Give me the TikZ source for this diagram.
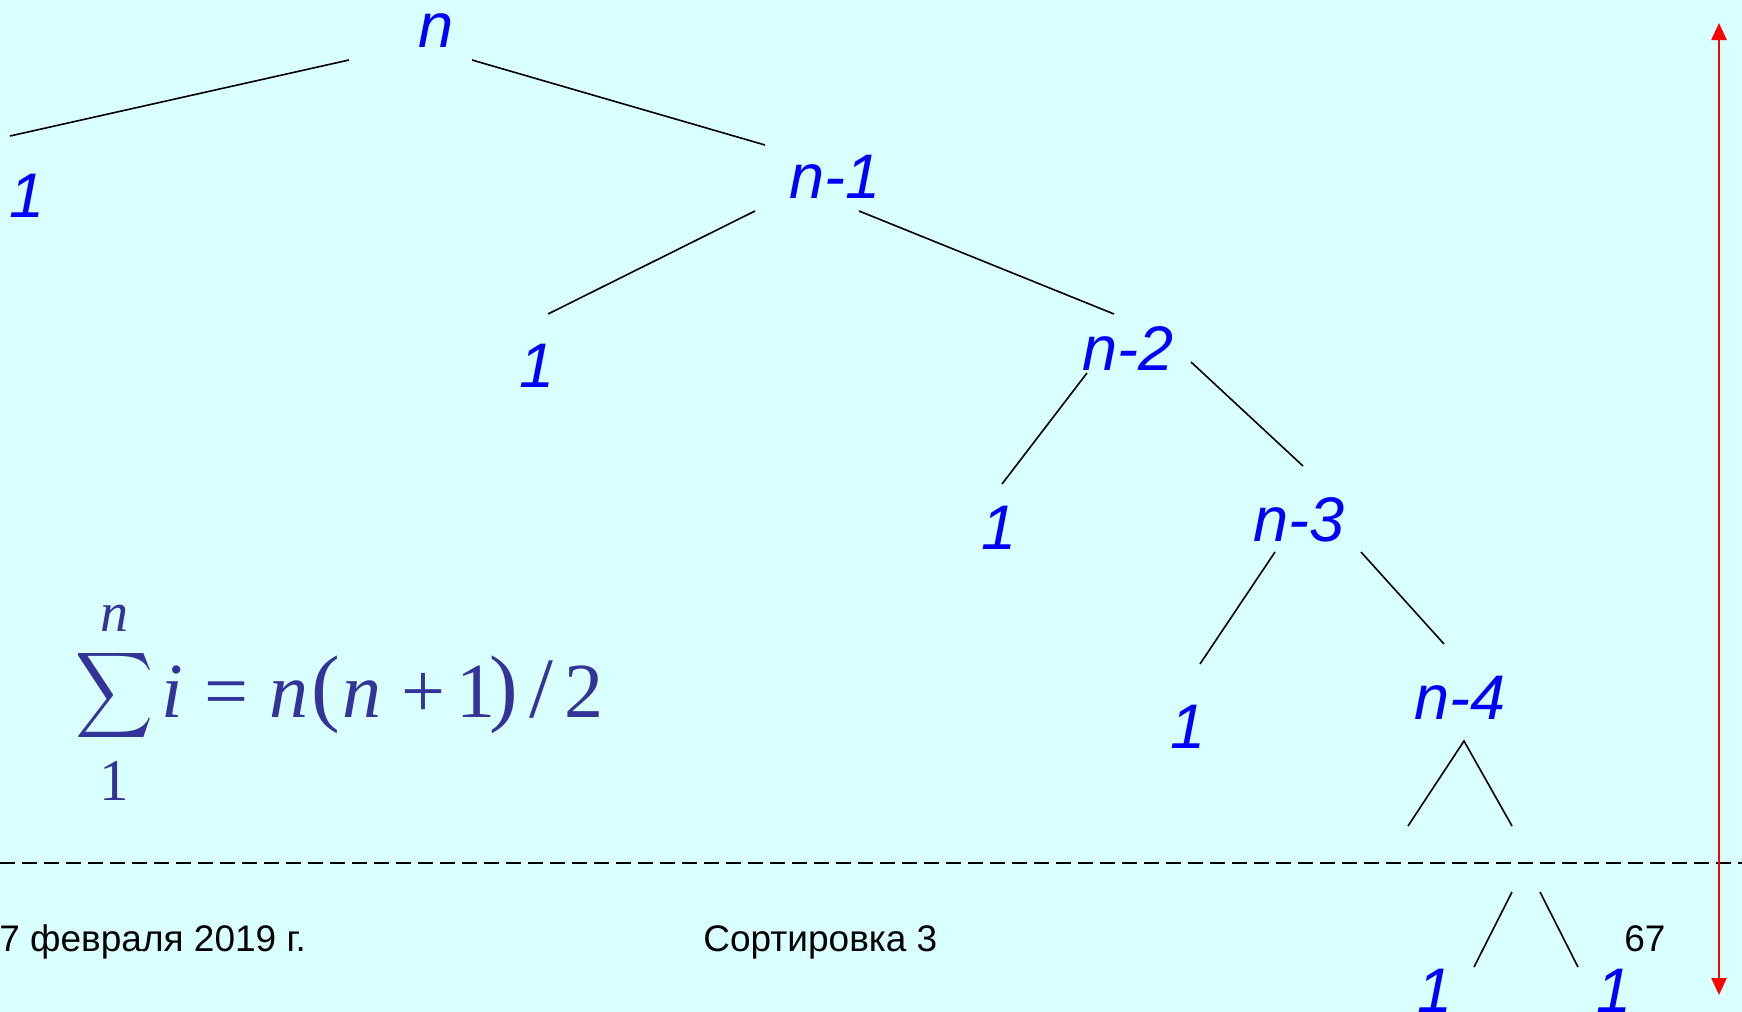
\documentclass[tikz,border=0pt]{standalone}
\usepackage{fontspec}
\usepackage{graphicx}
\setmainfont{Liberation Sans}
\newfontfamily\tnr{Liberation Serif}
\usetikzlibrary{arrows.meta}
\definecolor{bgcyan}{RGB}{217,255,255}
\definecolor{formula}{RGB}{51,51,153}
\tikzset{
  lbl/.style={anchor=base,inner sep=0pt,text=blue,font=\fontsize{31.5}{34}\selectfont\itshape},
  edge/.style={draw=black,line width=0.8pt},
  foot/.style={anchor=base west,inner sep=0pt,text=black,font=\fontsize{18.5}{20}\selectfont},
  fm/.style={anchor=base,inner sep=0pt,text=formula,font=\tnr\fontsize{39}{42}\selectfont},
  fmit/.style={fm,font=\tnr\fontsize{39}{42}\selectfont\itshape},
  fmbig/.style={fm,font=\tnr\fontsize{43}{46}\selectfont},
}
\begin{document}
\begin{tikzpicture}[x=0.5pt,y=-0.5pt]
\fill[bgcyan] (0,0) rectangle (1742,1012);
\useasboundingbox (0,0) rectangle (1742,1012);

% tree labels
\node[lbl] (n)  at (436,47)  {n};
\node[lbl] (a1) at (27,217)  {1};
\node[lbl] (n1) at (835,198) {n-1};
\node[lbl] (a2) at (537,387) {1};
\node[lbl] (n2) at (1128,370) {n-2};
\node[lbl] (a3) at (999,549) {1};
\node[lbl] (n3) at (1299,541) {n-3};
\node[lbl] (a4) at (1188,748) {1};
\node[lbl] (n4) at (1460,719) {n-4};
\node[lbl] (a5) at (1435,1012) {1};
\node[lbl] (a6) at (1614,1012) {1};

% edge end points
\coordinate (e1a) at (349,60);   \coordinate (e1b) at (10,136);
\coordinate (e2a) at (472,60);   \coordinate (e2b) at (765,145);
\coordinate (e3a) at (755,211);  \coordinate (e3b) at (548,314);
\coordinate (e4a) at (859,211);  \coordinate (e4b) at (1114,314);
\coordinate (e5a) at (1087,373); \coordinate (e5b) at (1002,484);
\coordinate (e6a) at (1191,362); \coordinate (e6b) at (1303,466);
\coordinate (e7a) at (1275,552); \coordinate (e7b) at (1200,664);
\coordinate (e8a) at (1361,552); \coordinate (e8b) at (1444,644);
\coordinate (apex) at (1464,741);
\coordinate (e9l) at (1408,826); \coordinate (e9r) at (1512,826);
\coordinate (f1a) at (1512,892); \coordinate (f1b) at (1474,967);
\coordinate (f2a) at (1540,892); \coordinate (f2b) at (1578,967);

\draw[edge] (e1a) -- (e1b);
\draw[edge] (e2a) -- (e2b);
\draw[edge] (e3a) -- (e3b);
\draw[edge] (e4a) -- (e4b);
\draw[edge] (e5a) -- (e5b);
\draw[edge] (e6a) -- (e6b);
\draw[edge] (e7a) -- (e7b);
\draw[edge] (e8a) -- (e8b);
\draw[edge] (e9l) -- (apex) -- (e9r);
\draw[edge] (f1a) -- (f1b);
\draw[edge] (f2a) -- (f2b);

% dashed line
\coordinate (dl) at (0,863); \coordinate (dr) at (1742,863);
\draw[black,line width=0.9pt,dash pattern=on 7.5pt off 3.5pt] (dl) -- (dr);

% red arrow
\coordinate (rt) at (1719,23); \coordinate (rb) at (1719,995);
\draw[red,line width=1.2pt,{Triangle[width=7.5pt,length=8.5pt]}-{Triangle[width=7.5pt,length=8.5pt]}] (rt) -- (rb);

% formula
\node[inner sep=0pt,text=formula] (sig) at (115,695) {\resizebox*{39pt}{48pt}{$\displaystyle\sum$}};
\node[fmit,font=\tnr\fontsize{28}{30}\selectfont\itshape] (up) at (114,631) {n};
\node[fm,font=\tnr\fontsize{29.5}{31}\selectfont] (lo) at (114,800) {1};
\node[fmit] (fi) at (172,717) {i};
\node[fm] (feq) at (226,717) {=};
\node[fmit] (fn1) at (289,717) {n};
\node[fmbig] (flp) at (326,715) {(};
\node[fmit] (fn2) at (362,717) {n};
\node[fm] (fpl) at (423,717) {+};
\node[fm] (fone) at (476,717) {1};
\node[fmbig] (frp) at (504,715) {)};
\node[fmbig] (fsl) at (541,717) {/};
\node[fm] (ftwo) at (584,717) {2};

% footer
\node[foot] (date) at (-1,951) {7 февраля 2019 г.};
\node[foot] (title) at (703,951) {Сортировка 3};
\node[foot] (page) at (1624,951) {67};
\end{tikzpicture}
\end{document}
